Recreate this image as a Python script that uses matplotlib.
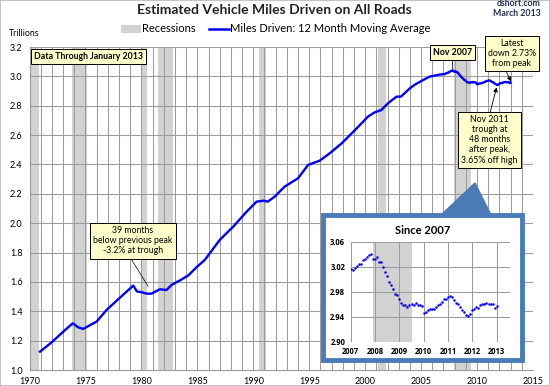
import numpy as np
import matplotlib
matplotlib.use("Agg")
import matplotlib.pyplot as plt
from matplotlib.patches import Rectangle, Polygon, Patch
from matplotlib.lines import Line2D

plt.rcParams['font.family'] = ['Lato', 'DejaVu Sans']

# long-run series (decimal year, trillions of miles)
early_years = [1970.94, 1972.0, 1973.0, 1973.86, 1974.36, 1974.8, 1976.0, 1976.9,
               1977.9, 1979.27, 1979.6, 1980.0, 1980.46, 1980.9, 1981.65, 1982.25,
               1982.7, 1983.44, 1984.2, 1984.93, 1985.67, 1987.0, 1988.2, 1989.4,
               1990.3, 1990.9, 1991.3, 1991.9, 1992.8, 1994.0, 1994.9, 1995.94,
               1996.83, 1997.9, 1999.1, 2000.25, 2000.85, 2001.45, 2002.04, 2002.8,
               2003.2, 2004.0, 2004.4, 2005.2, 2005.76, 2006.5]
early_vals = [1.125, 1.19, 1.26, 1.318, 1.29, 1.28, 1.33, 1.41,
              1.48, 1.575, 1.535, 1.53, 1.52, 1.52, 1.55, 1.545,
              1.58, 1.61, 1.645, 1.70, 1.75, 1.886, 1.976, 2.078,
              2.147, 2.153, 2.147, 2.18, 2.249, 2.306, 2.397, 2.426,
              2.476, 2.544, 2.635, 2.726, 2.755, 2.771, 2.817, 2.862,
              2.862, 2.919, 2.942, 2.976, 2.998, 3.010]

# monthly values Jan 2007 .. Jan 2013 (from the inset)
recent_vals = [3.016, 3.014, 3.018, 3.021, 3.024, 3.025, 3.030, 3.033, 3.036, 3.039, 3.040, 3.033,
               3.032, 3.035, 3.028, 3.027, 3.020, 3.012, 3.005, 2.996, 2.991, 2.984, 2.977, 2.975,
               2.968, 2.962, 2.959, 2.958, 2.955, 2.959, 2.960, 2.959, 2.962, 2.959, 2.959, 2.957,
               2.946, 2.947, 2.951, 2.952, 2.952, 2.953, 2.956, 2.959, 2.961, 2.964, 2.968, 2.969,
               2.971, 2.973, 2.971, 2.967, 2.962, 2.960, 2.956, 2.951, 2.947, 2.943, 2.941, 2.945,
               2.950, 2.953, 2.955, 2.954, 2.959, 2.960, 2.961, 2.962, 2.960, 2.960, 2.961, 2.954,
               2.957]
recent_years = 2007 + np.arange(len(recent_vals)) / 12.0

recessions = [(1969.92, 1970.87), (1973.83, 1975.1), (1980.0, 1980.5), (1981.5, 1982.83),
              (1990.5, 1991.17), (2001.17, 2001.83), (2007.92, 2009.5)]

years = np.concatenate([early_years, recent_years])
vals = np.concatenate([early_vals, recent_vals])

W, H = 550, 386
fig = plt.figure(figsize=(W / 100, H / 100), dpi=100)
fig.patches.append(Rectangle((0, 0), 1, 1, transform=fig.transFigure, fill=False,
                             ec='#b8b8b8', lw=1.2))

def fx(px):
    return px / W

def fy(py):
    return 1 - py / H

grid_c = '#9c9c9c'
shade_c = '#d2d2d2'

ax = fig.add_axes([fx(29.5), fy(370), fx(533) - fx(29.5), fy(47) - fy(370)])
ax.set_xlim(1970, 2015)
ax.set_ylim(1.0, 3.2)
for s, e in recessions:
    ax.axvspan(s, e, color=shade_c, lw=0, zorder=0.2)
ax.set_xticks(np.arange(1970, 2016, 1), minor=True)
ax.set_xticks(np.arange(1970, 2016, 5))
ax.set_yticks(np.arange(1.0, 3.21, 0.2))
ax.set_yticklabels([f"{v:.1f}" for v in np.arange(1.0, 3.21, 0.2)])
ax.grid(True, which='both', color=grid_c, lw=0.75, zorder=0.5)
ax.tick_params(which='both', length=0, labelsize=6.5, pad=5)
for side in ['top', 'right']:
    ax.spines[side].set_visible(False)
for side in ['left', 'bottom']:
    ax.spines[side].set_color(grid_c)
ax.plot(years, vals, color='#0000ff', lw=1.7, zorder=3)

box = dict(boxstyle='square,pad=0.35', fc='#ffffcc', ec='black', lw=0.7)
ax.text(1970.4, 3.137, "Data Through January 2013", fontsize=6.3, fontweight='bold',
        va='center', ha='left', bbox=box, zorder=5)
ax.annotate("Nov 2007", xy=(2007.83, 3.045), xytext=(2007.8, 3.16), fontsize=6.3,
            fontweight='bold', ha='center', va='center', bbox=box, zorder=5,
            annotation_clip=False,
            arrowprops=dict(arrowstyle='-', color='black', lw=0.6, shrinkA=0, shrinkB=0))
ax.annotate("Latest\ndown 2.73%\nfrom peak", xy=(2013.1, 2.957), xytext=(2013.1, 3.155),
            fontsize=6.3, ha='center', va='center', bbox=box, zorder=5,
            annotation_clip=False, linespacing=1.15,
            arrowprops=dict(arrowstyle='-|>,head_length=0.4,head_width=0.2', color='black',
                            lw=0.6, shrinkA=0, shrinkB=1, relpos=(0.35, 0)))
ax.annotate("Nov 2011\ntrough at\n48 months\nafter peak,\n3.65% off high", xy=(2011.75, 2.925),
            xytext=(2011.1, 2.567), fontsize=6.3, ha='center', va='center', bbox=box,
            zorder=5, linespacing=1.15,
            arrowprops=dict(arrowstyle='-|>,head_length=0.4,head_width=0.2', color='black',
                            lw=0.6, shrinkA=0, shrinkB=0, relpos=(0.5, 1)))
ax.annotate("39 months\nbelow previous peak\n-3.2% at trough", xy=(1980.6, 1.57),
            xytext=(1979.25, 1.879), fontsize=6.3, ha='center', va='center', bbox=box,
            zorder=5, linespacing=1.15,
            arrowprops=dict(arrowstyle='-', color='black', lw=0.5, shrinkA=0, shrinkB=0,
                            relpos=(0.45, 0)))

fig.text(fx(274), fy(10), "Estimated Vehicle Miles Driven on All Roads", fontsize=10,
         fontweight='bold', ha='center', va='center', color='#222222')
fig.text(fx(541), fy(4), "dshort.com", fontsize=6.3, ha='right', va='center',
         fontweight='bold', color='#1f3050')
fig.text(fx(541), fy(14), "March 2013", fontsize=6.3, ha='right', va='center',
         fontweight='bold', color='#1f3050')
fig.text(fx(9), fy(34), "Trillions", fontsize=6.3, ha='left', va='center')

handles = [Patch(fc=shade_c, ec='none'), Line2D([], [], color='#0000ff', lw=1.8)]
fig.legend(handles, ["Recessions", "Miles Driven: 12 Month Moving Average"], ncol=2,
           loc='center', bbox_to_anchor=(fx(276), fy(29)), frameon=False, fontsize=8,
           handlelength=1.8, handleheight=0.7, columnspacing=1.2, handletextpad=0.1)

# inset callout frame
blue = '#4a7bb7'
fig.patches.append(Polygon([(fx(441), fy(215)), (fx(475), fy(183)), (fx(491), fy(215))],
                           closed=True, transform=fig.transFigure, fc=blue, ec=blue,
                           zorder=4))
fig.patches.append(Rectangle((fx(323), fy(360)), fx(522) - fx(323), fy(215) - fy(360),
                             transform=fig.transFigure, fc='white', ec=blue, lw=3.5,
                             zorder=4))

ins = fig.add_axes([fx(350.7), fy(341.7), fx(510) - fx(350.7), fy(241.7) - fy(341.7)])
ins.set_zorder(5)
ins.set_xlim(2007, 2013.55)
ins.set_ylim(2.90, 3.06)
ins.axvspan(recessions[-1][0], recessions[-1][1], color=shade_c, lw=0, zorder=0.2)
ins.set_xticks(np.arange(2007, 2014))
ins.set_yticks(np.arange(2.90, 3.061, 0.04))
ins.set_yticklabels([f"{v:.2f}" for v in np.arange(2.90, 3.061, 0.04)])
ins.grid(True, color=grid_c, lw=0.75, zorder=0.5)
ins.tick_params(length=0, labelsize=5.5, pad=4)
for t in ins.get_xticklabels() + ins.get_yticklabels():
    t.set_fontweight('bold')
    t.set_family('Open Sans')
for s in ins.spines.values():
    s.set_visible(False)
ins.plot(recent_years, recent_vals, 'o', color='#0000ff', ms=1.8, mew=0, zorder=3)
fig.text(fx(423), fy(231), "Since 2007", fontsize=8, fontweight='bold', ha='center',
         va='center', zorder=6)

fig.savefig("out.png", dpi=100)
